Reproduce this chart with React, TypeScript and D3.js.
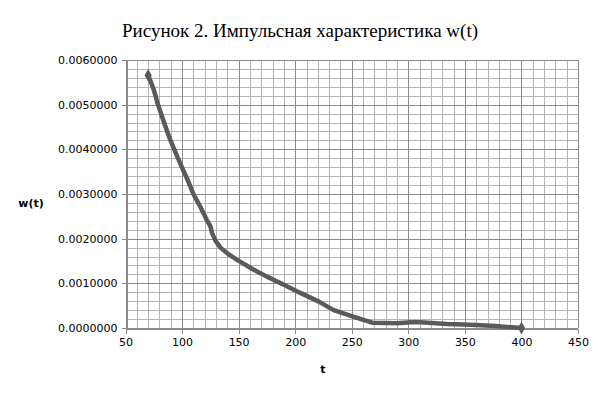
import React, { useEffect, useRef } from 'react';
import * as d3 from 'd3';

// readings of the curve off the picture
const tValues = [70, 74.5, 76.3, 78, 82.5, 86, 89.6, 95.7, 100, 105, 110, 116, 122, 125, 126.5, 129.6, 134, 140, 149, 163, 175, 190, 205, 221, 234, 252, 268, 290, 302, 311, 334, 355, 377, 391, 400];
const wValues = [0.00566, 0.00537, 0.00522, 0.00506, 0.00472, 0.00446, 0.00421, 0.00384, 0.00359, 0.00331, 0.003, 0.00272, 0.00241, 0.00228, 0.00213, 0.00195, 0.0018, 0.00167, 0.00152, 0.00131, 0.00115, 0.00097, 0.00078, 0.00059, 0.0004, 0.00025, 0.00012, 0.000105, 0.000128, 0.000128, 0.00009, 0.00007, 0.000045, 0.000016, 0];

const xTicks = [50, 100, 150, 200, 250, 300, 350, 400, 450];
const yTicks = [0, 0.001, 0.002, 0.003, 0.004, 0.005, 0.006];

const title = 'Рисунок 2. Импульсная характеристика w(t)';

function App() {
  const svgRef = useRef() as React.RefObject<SVGSVGElement>;

  useEffect(() => {
    document.body.style.margin = '0';
    const width = 601;
    const height = 396;
    const margin = { top: 60, right: 23, bottom: 68, left: 125.5 };

    const svg = d3.select(svgRef.current)
      .attr('width', width)
      .attr('height', height)
      .style('background', '#fff');
    svg.selectAll('*').remove();

    const xScale = d3.scaleLinear().domain([50, 450]).range([margin.left, width - margin.right]);
    const yScale = d3.scaleLinear().domain([0, 0.006]).range([height - margin.bottom, margin.top]);

    // minor grid
    const g = svg.append('g').attr('shape-rendering', 'crispEdges');
    g.selectAll('.minorX')
      .data(d3.range(50, 451, 10))
      .join('line')
      .attr('x1', d => Math.round(xScale(d)) + 0.5)
      .attr('x2', d => Math.round(xScale(d)) + 0.5)
      .attr('y1', yScale(0))
      .attr('y2', yScale(0.006))
      .attr('stroke', '#b4b4b4');
    g.selectAll('.minorY')
      .data(d3.range(0, 31).map(i => i * 0.0002))
      .join('line')
      .attr('class', 'minorY')
      .attr('y1', d => Math.round(yScale(d)) + 0.5)
      .attr('y2', d => Math.round(yScale(d)) + 0.5)
      .attr('x1', xScale(50))
      .attr('x2', xScale(450))
      .attr('stroke', '#b4b4b4');

    // major grid
    g.selectAll('.majorX')
      .data(xTicks)
      .join('line')
      .attr('class', 'majorX')
      .attr('x1', d => Math.round(xScale(d)) + 0.5)
      .attr('x2', d => Math.round(xScale(d)) + 0.5)
      .attr('y1', yScale(0))
      .attr('y2', yScale(0.006))
      .attr('stroke', '#8a8a8a');
    g.selectAll('.majorY')
      .data(yTicks)
      .join('line')
      .attr('class', 'majorY')
      .attr('y1', d => Math.round(yScale(d)) + 0.5)
      .attr('y2', d => Math.round(yScale(d)) + 0.5)
      .attr('x1', xScale(50))
      .attr('x2', xScale(450))
      .attr('stroke', '#8a8a8a');

    // axes
    const xAxis = svg.append('g')
      .attr('transform', `translate(0,${Math.round(yScale(0)) + 0.5})`)
      .call(d3.axisBottom(xScale).tickValues(xTicks).tickSize(5).tickSizeOuter(0).tickPadding(5).tickFormat(d3.format('d')));
    const yAxis = svg.append('g')
      .attr('transform', `translate(${Math.round(xScale(50)) + 0.5},0)`)
      .call(d3.axisLeft(yScale).tickValues(yTicks).tickSize(5).tickSizeOuter(0).tickPadding(4).tickFormat(d3.format('.7f')));
    [xAxis, yAxis].forEach(a => {
      a.select('.domain').attr('stroke', '#8a8a8a').attr('shape-rendering', 'crispEdges');
      a.selectAll('line').attr('stroke', '#8a8a8a').attr('shape-rendering', 'crispEdges');
      a.selectAll('text')
        .attr('fill', '#000')
        .style('font-family', '"DejaVu Sans", sans-serif')
        .style('font-size', '11px');
    });

    // curve
    const points = tValues.map((t, i) => [t, wValues[i]] as [number, number]);
    const line = d3.line<[number, number]>()
      .x(d => xScale(d[0]))
      .y(d => yScale(d[1]));
    svg.append('path')
      .datum(points)
      .attr('fill', 'none')
      .attr('stroke', '#5a5a5a')
      .attr('stroke-width', 4.5)
      .attr('stroke-linejoin', 'round')
      .attr('d', line);

    // end markers
    const diamond = d3.symbol().type(d3.symbolDiamond).size(45);
    svg.selectAll('.marker')
      .data([points[0], points[points.length - 1]])
      .join('path')
      .attr('class', 'marker')
      .attr('transform', d => `translate(${xScale(d[0])},${yScale(d[1])})`)
      .attr('fill', '#5a5a5a')
      .attr('d', diamond);

    // titles
    svg.append('text')
      .attr('x', 300)
      .attr('y', 37)
      .attr('text-anchor', 'middle')
      .style('font-family', '"Liberation Serif", serif')
      .style('font-size', '19px')
      .text(title);
    svg.append('text')
      .attr('x', 31)
      .attr('y', 207)
      .attr('text-anchor', 'middle')
      .style('font-family', '"DejaVu Sans", sans-serif')
      .style('font-size', '11px')
      .style('font-weight', 'bold')
      .text('w(t)');
    svg.append('text')
      .attr('x', 323)
      .attr('y', 373)
      .attr('text-anchor', 'middle')
      .style('font-family', '"DejaVu Sans", sans-serif')
      .style('font-size', '11px')
      .style('font-weight', 'bold')
      .text('t');
  }, []);

  return (
    <div>
      <svg ref={svgRef} style={{ display: 'block' }}></svg>
    </div>
  );
}

export default App;
